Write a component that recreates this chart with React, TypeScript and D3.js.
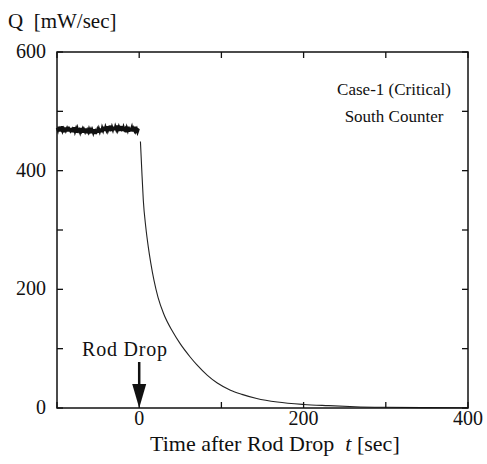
import React, { useEffect, useRef } from 'react';
import * as d3 from 'd3';

// steady signal before the rod drop, one reading per second (t = -100 .. 0)
const preTimes = d3.range(-100, 1);
const preValues = [
  472, 468, 474, 466, 471, 469, 475, 467, 470, 465,
  473, 468, 471, 466, 474, 469, 467, 472, 465, 470,
  468, 473, 466, 470, 464, 471, 467, 469, 465, 472,
  467, 470, 464, 469, 466, 471, 463, 468, 465, 470,
  466, 469, 463, 468, 464, 470, 462, 467, 465, 469,
  464, 470, 466, 471, 465, 472, 468, 474, 467, 473,
  469, 475, 468, 472, 470, 476, 467, 473, 469, 474,
  468, 474, 470, 476, 469, 473, 467, 472, 470, 475,
  467, 473, 469, 471, 465, 472, 468, 474, 466, 470,
  469, 473, 466, 471, 468, 474, 467, 470, 465, 469,
  468,
];

// decay after the rod drop
const decayTimes = [1.5, 3, 5, 8, 11, 14, 18, 23, 30, 41, 50, 62, 70, 83, 95, 111, 125, 143, 168, 200, 230, 263, 300, 350, 400];
const decayValues = [449, 405, 350, 305, 272, 245, 215, 186, 158, 128, 108, 86, 73, 55, 42, 30, 23, 16, 10, 6, 4, 2.2, 1.2, 0.6, 0.3];

const xTicks = [-100, 0, 100, 200, 300, 400];
const xLabels = [0, 200, 400];
const yTicks = [0, 100, 200, 300, 400, 500, 600];
const yLabels = [0, 200, 400, 600];

const FONT = "'Times New Roman'";

const App = () => {
  const svgRef = useRef(null);

  useEffect(() => {
    const svg = d3.select(svgRef.current);
    svg.selectAll('*').remove();

    const left = 57, right = 468, top = 52, bottom = 408;
    const x = d3.scaleLinear().domain([-100, 400]).range([left, right]);
    const y = d3.scaleLinear().domain([0, 600]).range([bottom, top]);
    const ink = '#111';

    const label = (tx: number, ty: number, size: number, anchor = 'start') =>
      svg.append('text')
        .attr('x', tx).attr('y', ty)
        .attr('text-anchor', anchor)
        .attr('font-size', size)
        .attr('fill', ink)
        .style('font-family', FONT)
        .style('white-space', 'pre');

    // data lines
    const line = d3.line<number>()
      .x((d, i) => x(preTimes[i]))
      .y(d => y(d));
    svg.append('path')
      .attr('d', line(preValues))
      .attr('fill', 'none')
      .attr('stroke', ink)
      .attr('stroke-width', 2.5);

    const decay = d3.line<number>()
      .x((d, i) => x(decayTimes[i]))
      .y(d => y(d))
      .curve(d3.curveMonotoneX);
    svg.append('path')
      .attr('d', decay(decayValues))
      .attr('fill', 'none')
      .attr('stroke', '#222')
      .attr('stroke-width', 1.1);

    // frame
    svg.append('rect')
      .attr('x', left).attr('y', top)
      .attr('width', right - left).attr('height', bottom - top)
      .attr('fill', 'none').attr('stroke', ink).attr('stroke-width', 1.5);

    // inward ticks on all four sides
    const tl = 6;
    const g = svg.append('g').attr('stroke', ink).attr('stroke-width', 1.3);
    xTicks.forEach(t => {
      g.append('line').attr('x1', x(t)).attr('x2', x(t)).attr('y1', bottom).attr('y2', bottom - tl);
      g.append('line').attr('x1', x(t)).attr('x2', x(t)).attr('y1', top).attr('y2', top + tl);
    });
    yTicks.forEach(v => {
      g.append('line').attr('x1', left).attr('x2', left + tl).attr('y1', y(v)).attr('y2', y(v));
      g.append('line').attr('x1', right).attr('x2', right - tl).attr('y1', y(v)).attr('y2', y(v));
    });

    // tick labels
    xLabels.forEach(v => label(x(v), 425, 20, 'middle').text(v));
    yLabels.forEach(v => label(46, y(v) + 6, 20, 'end').text(v));

    // axis titles
    label(8, 28, 21).text('Q  [mW/sec]');
    const xt = label(150, 451, 22);
    xt.append('tspan').text('Time after Rod Drop  ');
    xt.append('tspan').attr('font-style', 'italic').text('t');
    xt.append('tspan').text(' [sec]');

    // annotations
    label(394, 95, 17, 'middle').text('Case-1 (Critical)');
    label(394, 122, 17, 'middle').text('South Counter');
    label(125, 356, 20, 'middle').style('letter-spacing', '0.8px').text('Rod Drop');

    // rod drop arrow
    const ax = x(0);
    svg.append('line')
      .attr('x1', ax).attr('x2', ax).attr('y1', 362).attr('y2', 386)
      .attr('stroke', ink).attr('stroke-width', 2.5);
    svg.append('path')
      .attr('d', `M${ax - 7},384 L${ax + 7},384 L${ax},${bottom} Z`)
      .attr('fill', ink);
  }, []);

  return (
    <svg
      ref={svgRef}
      width={487}
      height={464}
      style={{ position: 'absolute', left: 0, top: 0, background: '#fff' }}
    />
  );
};

export default App;
